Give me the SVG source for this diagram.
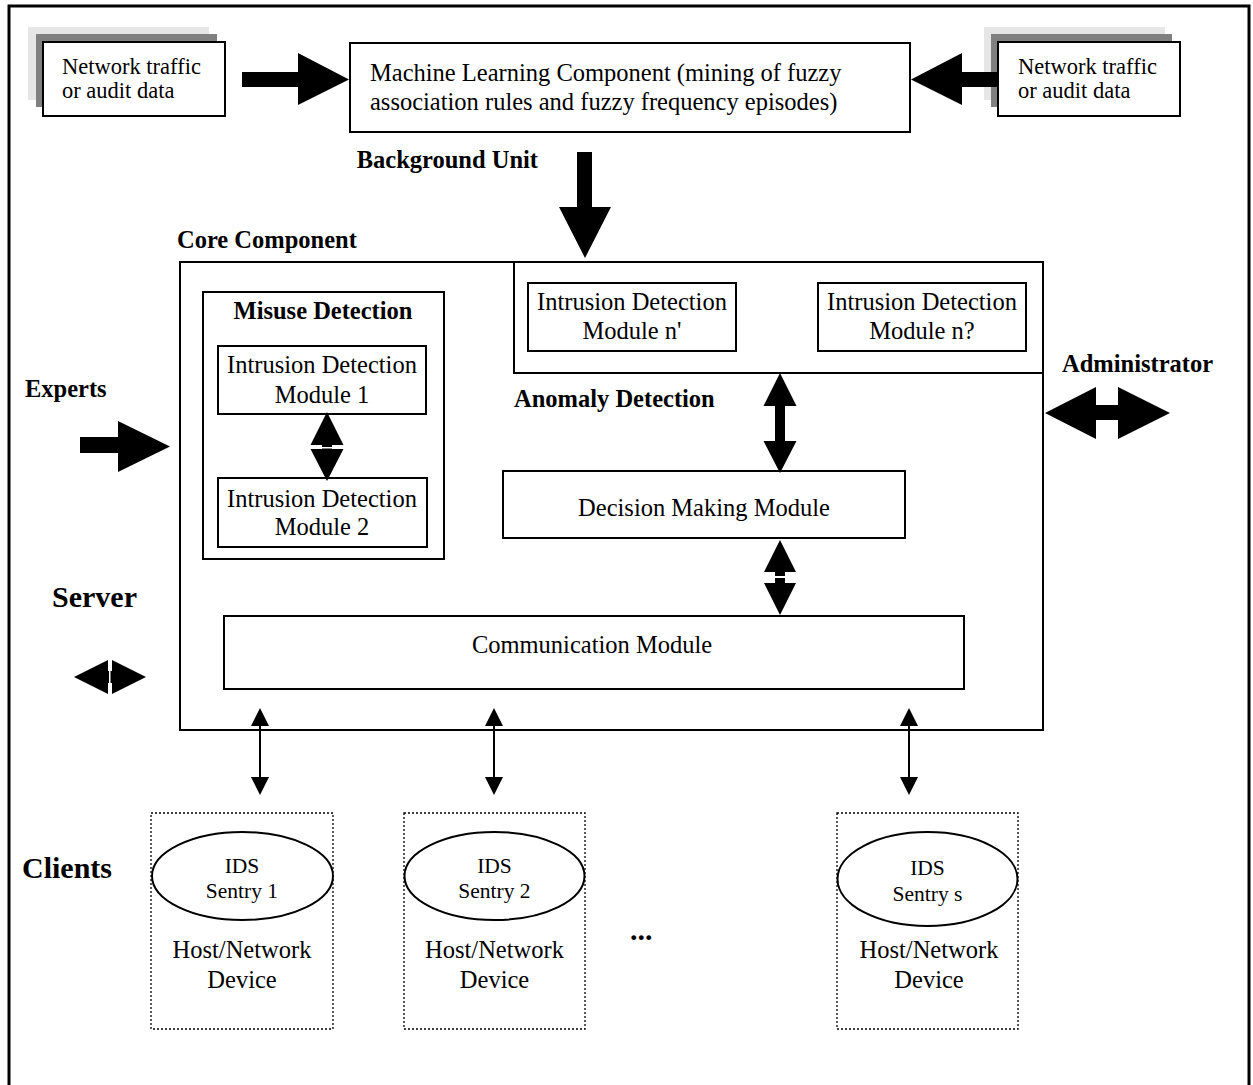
<svg xmlns="http://www.w3.org/2000/svg" width="1253" height="1085" viewBox="0 0 1253 1085">
<style>
.box{fill:#fff;stroke:#000;stroke-width:2}
.dot{fill:none;stroke:#000;stroke-width:1.3;stroke-dasharray:2,2}
.t{font-family:"Liberation Serif","Times New Roman",serif;font-size:24.5px;fill:#000}
.s{font-family:"Liberation Serif","Times New Roman",serif;font-size:22.5px;fill:#000}
.i{font-family:"Liberation Serif","Times New Roman",serif;font-size:21.5px;fill:#000}
.b{font-family:"Liberation Serif","Times New Roman",serif;font-size:24.5px;font-weight:bold;fill:#000}
.bb{font-family:"Liberation Serif","Times New Roman",serif;font-size:30px;font-weight:bold;fill:#000}
.c{text-anchor:middle}
.ar{fill:#000;stroke:none}
.ln{stroke:#000;stroke-width:2;fill:none}
</style>
<rect x="0" y="0" width="1253" height="1085" fill="#fff"/>
<rect id="frame" x="9" y="6" width="1240" height="1095" fill="none" stroke="#000" stroke-width="3"/>

<g id="input-left">
<rect x="28" y="27" width="181" height="73" fill="#e6e6e6"/>
<rect x="36" y="34" width="181" height="73" fill="#808080"/>
<rect class="box" x="43" y="42" width="182" height="74"/>
<text class="s" x="62" y="74">Network traffic</text>
<text class="s" x="62" y="98">or audit data</text>
</g>

<g id="input-right">
<rect x="984" y="27" width="181" height="73" fill="#e6e6e6"/>
<rect x="991" y="34" width="181" height="73" fill="#808080"/>
<rect class="box" x="998" y="42" width="182" height="74"/>
<text class="s" x="1018" y="74">Network traffic</text>
<text class="s" x="1018" y="98">or audit data</text>
</g>

<g id="ml-component">
<rect class="box" x="350" y="43" width="560" height="89"/>
<text class="t" x="370" y="81">Machine Learning Component (mining of fuzzy</text>
<text class="t" x="370" y="110">association rules and fuzzy frequency episodes)</text>
<text class="b" x="538" y="168" text-anchor="end">Background Unit</text>
</g>

<g id="core-component">
<text class="b" x="177" y="248">Core Component</text>
<rect class="box" x="180" y="262" width="863" height="468"/>
</g>

<g id="misuse-detection">
<rect class="box" x="203" y="292" width="241" height="267"/>
<text class="b c" x="323" y="319">Misuse Detection</text>
</g>

<g id="idm1">
<rect class="box" x="218" y="346" width="208" height="68"/>
<text class="t c" x="322" y="373">Intrusion Detection</text>
<text class="t c" x="322" y="403">Module 1</text>
</g>

<g id="idm2">
<rect class="box" x="218" y="478" width="209" height="69"/>
<text class="t c" x="322" y="507">Intrusion Detection</text>
<text class="t c" x="322" y="535">Module 2</text>
</g>

<g id="anomaly-detection">
<rect class="box" x="514" y="262" width="529" height="111"/>
<text class="b" x="514" y="407">Anomaly Detection</text>
</g>

<g id="idm-n1">
<rect class="box" x="528" y="283" width="208" height="68"/>
<text class="t c" x="632" y="310">Intrusion Detection</text>
<text class="t c" x="632" y="339">Module n'</text>
</g>

<g id="idm-n2">
<rect class="box" x="818" y="283" width="208" height="68"/>
<text class="t c" x="922" y="310">Intrusion Detection</text>
<text class="t c" x="922" y="339">Module n?</text>
</g>

<g id="decision-making">
<rect class="box" x="503" y="471" width="402" height="67"/>
<text class="t c" x="704" y="516">Decision Making Module</text>
</g>

<g id="communication">
<rect class="box" x="224" y="616" width="740" height="73"/>
<text class="t c" x="592" y="653">Communication Module</text>
</g>

<g id="labels">
<text class="b" x="25" y="397">Experts</text>
<text class="b" x="1062" y="372">Administrator</text>
<text class="bb" x="52" y="607">Server</text>
<text class="bb" x="22" y="878">Clients</text>
<text class="bb" x="630" y="940">...</text>
</g>

<g id="client1">
<rect class="dot" x="151" y="813" width="182" height="216"/>
<ellipse cx="242.5" cy="876" rx="90.5" ry="44" fill="#fff" stroke="#000" stroke-width="2"/>
<text class="i c" x="242" y="873">IDS</text>
<text class="i c" x="242" y="898">Sentry 1</text>
<text class="t c" x="242" y="958">Host/Network</text>
<text class="t c" x="242" y="988">Device</text>
</g>

<g id="client2">
<rect class="dot" x="404" y="813" width="181" height="216"/>
<ellipse cx="494.5" cy="876" rx="90" ry="44" fill="#fff" stroke="#000" stroke-width="2"/>
<text class="i c" x="494.5" y="873">IDS</text>
<text class="i c" x="494.5" y="898">Sentry 2</text>
<text class="t c" x="494.5" y="958">Host/Network</text>
<text class="t c" x="494.5" y="988">Device</text>
</g>

<g id="client3">
<rect class="dot" x="837" y="813" width="181" height="216"/>
<ellipse cx="927.5" cy="879" rx="90" ry="47" fill="#fff" stroke="#000" stroke-width="2"/>
<text class="i c" x="927.5" y="875">IDS</text>
<text class="i c" x="927.5" y="901">Sentry s</text>
<text class="t c" x="929" y="958">Host/Network</text>
<text class="t c" x="929" y="988">Device</text>
</g>

<g id="connectors">
<polygon class="ar" points="242,72 298,72 298,53 349,79.5 298,105 298,87 242,87"/>
<polygon class="ar" points="998,72 962,72 962,53 911,79.5 962,105 962,87 998,87"/>
<polygon class="ar" points="577,152 592,152 592,207 611,207 585,258 559,207 577,207"/>
<polygon class="ar" points="80,437 118,437 118,421 170,446.5 118,472 118,453 80,453"/>
<polygon class="ar" points="1045,413 1096,387 1096,405 1118,405 1118,387 1170,413 1118,439 1118,420 1096,420 1096,439"/>
<polygon class="ar" points="74,677 108,660 108,671 109,671 109,683 108,683 108,694"/>
<polygon class="ar" points="146,677 112,660 112,671 110.5,671 110.5,683 112,683 112,694"/>
<polygon class="ar" points="327,412 343.5,445 332,445 332,447 322,447 322,445 310.5,445"/>
<polygon class="ar" points="327,481 343.5,449 332,449 332,448.5 322,448.5 322,449 310.5,449"/>
<polygon class="ar" points="780,373 796.5,406 785,406 785,441 796.5,441 780,473 763.5,441 775,441 775,406 763.5,406"/>
<polygon class="ar" points="780,540 796,572 785,572 785,576 775,576 775,572 764,572"/>
<polygon class="ar" points="780,615 796,583 785,583 785,578 775,578 775,583 764,583"/>
<line class="ln" x1="260" y1="722" x2="260" y2="781"/>
<polygon class="ar" points="260,708 269,726 251,726"/>
<polygon class="ar" points="260,795 269,777 251,777"/>
<line class="ln" x1="494" y1="722" x2="494" y2="781"/>
<polygon class="ar" points="494,708 503,726 485,726"/>
<polygon class="ar" points="494,795 503,777 485,777"/>
<line class="ln" x1="909" y1="722" x2="909" y2="781"/>
<polygon class="ar" points="909,708 918,726 900,726"/>
<polygon class="ar" points="909,795 918,777 900,777"/>
</g>
</svg>
